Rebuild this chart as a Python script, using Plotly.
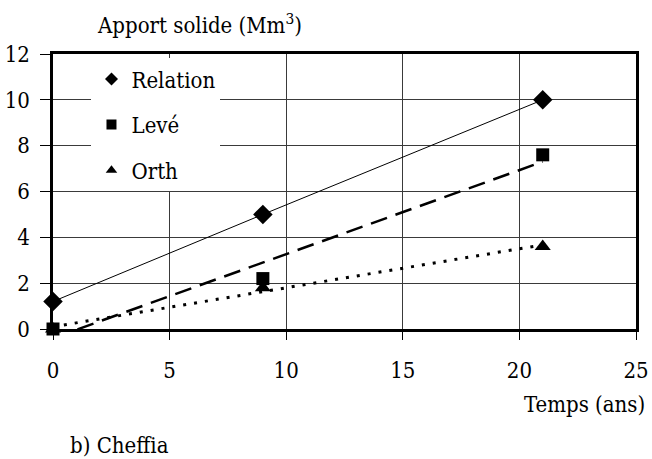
import numpy as np
import plotly.graph_objects as go

# ---- data ----
temps = [0, 9, 21]
relation = [1.2, 5.0, 10.0]
leve = [0.0, 2.2, 7.6]
orth = [0.0, 1.8, 3.6]

series_names = ["Relation", "Levé", "Orth"]
x_ticks = [0, 5, 10, 15, 20, 25]
y_ticks = [0, 2, 4, 6, 8, 10, 12]

FONT = "DejaVu Serif Condensed"
FS = 22

def trend(xs, ys):
    k, b = np.polyfit(xs, ys, 1)
    xe = [min(xs), max(xs)]
    return xe, [k * v + b for v in xe]

fig = go.Figure()

# connecting line and linear trend lines
fig.add_trace(go.Scatter(x=temps, y=relation, mode="lines",
                         line=dict(color="black", width=1), showlegend=False,
                         hoverinfo="skip"))
lx, ly = trend(temps, leve)
fig.add_trace(go.Scatter(x=lx, y=ly, mode="lines",
                         line=dict(color="black", width=2.5, dash="17px,9px"),
                         showlegend=False, hoverinfo="skip"))
ox, oy = trend(temps, orth)
fig.add_trace(go.Scatter(x=ox, y=oy, mode="lines",
                         line=dict(color="black", width=3, dash="3px,8px"),
                         showlegend=False, hoverinfo="skip"))

symbols = ["diamond", "square", "triangle-up"]
sizes = [15, 13, 14]
for name, vals, sym, sz in zip(series_names, [relation, leve, orth], symbols, sizes):
    fig.add_trace(go.Scatter(x=temps, y=vals, mode="markers", name=name,
                             marker=dict(symbol=sym, size=sz, color="black"),
                             cliponaxis=False, showlegend=False))
    # legend entry (smaller symbol as in the reference)
    fig.add_trace(go.Scatter(x=[None], y=[None], mode="markers", name=name,
                             marker=dict(symbol=sym, size=10, color="black"),
                             legendgroup=name, showlegend=True))

fig.update_layout(
    width=652, height=459,
    margin=dict(l=53, r=16, t=54, b=130, autoexpand=False),
    paper_bgcolor="white", plot_bgcolor="white",
    font=dict(family=FONT, size=FS, color="black"),
    legend=dict(x=0.066, y=0.985, xanchor="left", yanchor="top",
                bgcolor="white", borderwidth=0,
                font=dict(family=FONT, size=FS, color="black"),
                traceorder="grouped", tracegroupgap=14, itemwidth=30),
    xaxis=dict(range=[0, 25], tickvals=x_ticks, ticktext=[str(v) for v in x_ticks],
               showgrid=True, gridcolor="#3a3a3a", gridwidth=1,
               showline=True, linecolor="black", linewidth=2.5, mirror=True,
               ticks="outside", ticklen=8, tickcolor="black", tickwidth=1,
               ticklabelstandoff=12, zeroline=False),
    yaxis=dict(range=[0, 12], tickvals=y_ticks, ticktext=[str(v) for v in y_ticks],
               showgrid=True, gridcolor="#3a3a3a", gridwidth=1,
               showline=True, linecolor="black", linewidth=2.5, mirror=True,
               ticks="outside", ticklen=10, tickcolor="black", tickwidth=1,
               ticklabelstandoff=6, zeroline=False),
    annotations=[
        dict(text="Apport solide (Mm<sup>3</sup>)", xref="paper", yref="paper",
             x=0.072, y=1.109, xanchor="left", yanchor="middle", showarrow=False,
             font=dict(family=FONT, size=FS)),
        dict(text="Temps (ans)", xref="paper", yref="paper",
             x=1.019, y=-0.273, xanchor="right", yanchor="middle", showarrow=False,
             font=dict(family=FONT, size=FS)),
        dict(text="b) Cheffia", xref="paper", yref="paper",
             x=0.026, y=-0.422, xanchor="left", yanchor="middle", showarrow=False,
             font=dict(family=FONT, size=FS)),
    ],
)

fig.write_html("out.html", config={"displayModeBar": False},
               post_script="document.body.style.margin='0';document.body.style.overflow='hidden';")
